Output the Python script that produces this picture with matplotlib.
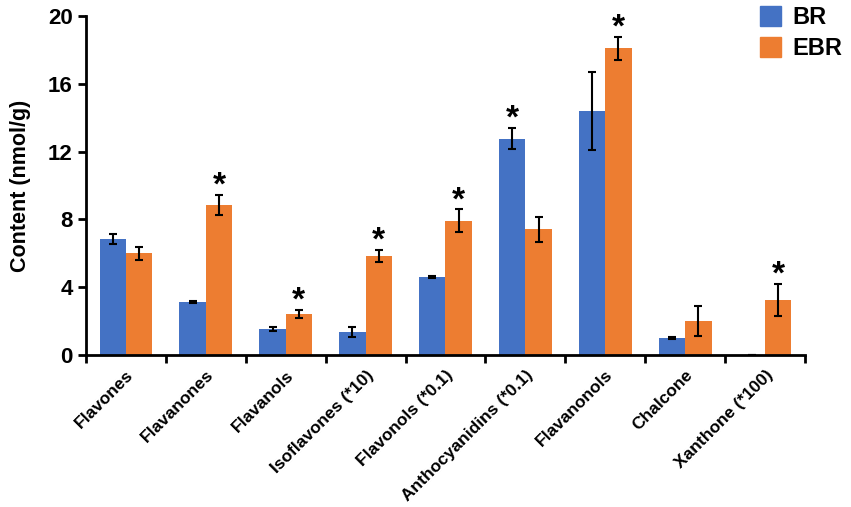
import numpy as np
import matplotlib.pyplot as plt
from matplotlib.patches import Patch

plt.rcParams['font.family'] = ['Liberation Sans', 'DejaVu Sans']
plt.rcParams['font.weight'] = 'bold'

categories = ['Flavones', 'Flavanones', 'Flavanols', 'Isoflavones (*10)', 'Flavonols (*0.1)',
              'Anthocyanidins (*0.1)', 'Flavanonols', 'Chalcone', 'Xanthone (*100)']
br = [6.83, 3.13, 1.52, 1.36, 4.62, 12.76, 14.4, 1.0, 0.0]
br_err = [0.3, 0.05, 0.13, 0.3, 0.05, 0.63, 2.28, 0.06, 0.0]
ebr = [6.0, 8.85, 2.42, 5.86, 7.92, 7.41, 18.11, 2.02, 3.26]
ebr_err = [0.38, 0.6, 0.22, 0.35, 0.67, 0.75, 0.67, 0.89, 0.94]
br_sig = [False, False, False, False, False, True, False, False, False]
ebr_sig = [False, True, True, True, True, False, True, False, True]

blue = '#4472C4'
orange = '#ED7D31'

fig = plt.figure(figsize=(8.51, 5.07), dpi=100)
ax = fig.add_axes([0.101, 0.30, 0.845, 0.668])

x = np.arange(len(categories))
w = 0.33
ax.bar(x - w / 2, br, w, color=blue, yerr=br_err, capsize=3,
       error_kw=dict(elinewidth=1.5, capthick=1.5, ecolor='black'))
ax.bar(x + w / 2, ebr, w, color=orange, yerr=ebr_err, capsize=3,
       error_kw=dict(elinewidth=1.5, capthick=1.5, ecolor='black'))

for i in range(len(categories)):
    if br_sig[i]:
        ax.text(x[i] - w / 2, br[i] + br_err[i] - 0.4, '*', ha='center', va='bottom',
                fontsize=24, fontweight='bold')
    if ebr_sig[i]:
        ax.text(x[i] + w / 2, ebr[i] + ebr_err[i] - 0.4, '*', ha='center', va='bottom',
                fontsize=24, fontweight='bold')

ax.set_xlim(-0.5, len(categories) - 0.5)
ax.set_ylim(0, 20)
ax.set_yticks([0, 4, 8, 12, 16, 20])
ax.tick_params(axis='y', labelsize=16, width=2, length=6, direction='out')
ax.set_xticks(np.arange(-0.5, len(categories), 1.0))
ax.set_xticklabels([])
ax.tick_params(axis='x', which='major', width=2, length=6, direction='out')
ax.set_xticks(x, minor=True)
ax.set_xticklabels(categories, minor=True, rotation=45, ha='right',
                   rotation_mode='anchor', fontsize=12.5, fontweight='bold')
ax.tick_params(axis='x', which='minor', length=0, pad=9)

for s in ['top', 'right']:
    ax.spines[s].set_visible(False)
for s in ['left', 'bottom']:
    ax.spines[s].set_linewidth(2)

ax.set_ylabel('Content (nmol/g)', fontsize=15.5, fontweight='bold', labelpad=12)

handles = [Patch(color=blue, label='BR'), Patch(color=orange, label='EBR')]
fig.legend(handles=handles, loc='upper right', bbox_to_anchor=(1.015, 1.03), frameon=False,
           prop=dict(size=17, weight='bold'), handlelength=0.9, handleheight=0.9,
           handletextpad=0.5, labelspacing=0.35)

fig.savefig('out.png', dpi=100)
